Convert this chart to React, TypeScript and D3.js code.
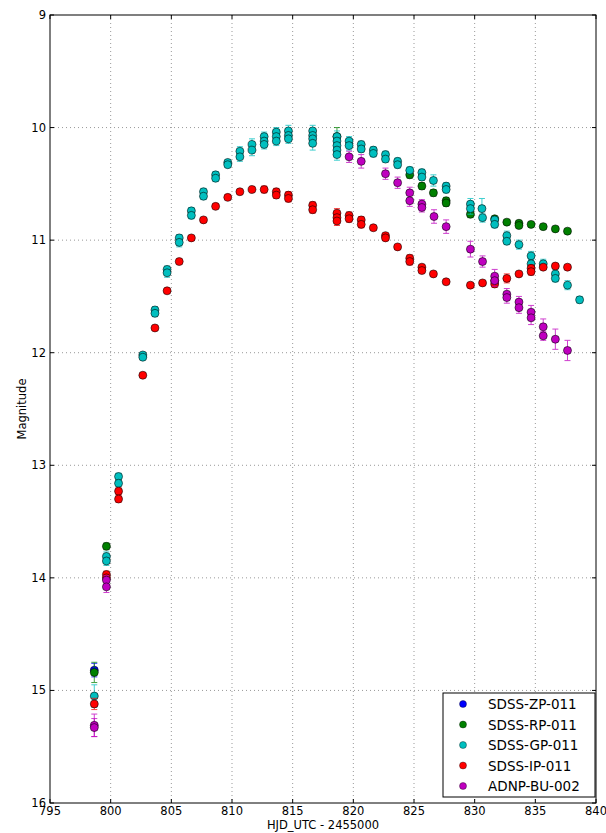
import React from "react";
import * as d3 from "d3";

// [HJD - 2455000, magnitude, error]
type Obs = [number, number, number];

const zpData: Obs[] = [[798.65, 14.82, 0.06]];

const rpData: Obs[] = [
  [798.65, 14.84, 0.09], [799.65, 13.72, 0.03], [818.65, 10.08, 0.08],
  [824.65, 10.42, 0.03], [825.65, 10.52, 0.03], [826.6, 10.58, 0.03],
  [827.65, 10.65, 0.03], [827.65, 10.67, 0.03], [829.65, 10.77, 0.03],
  [831.65, 10.81, 0.02], [832.65, 10.84, 0.02], [833.65, 10.85, 0.02],
  [833.65, 10.87, 0.02], [834.65, 10.86, 0.02], [835.65, 10.88, 0.02],
  [836.65, 10.9, 0.02], [837.65, 10.92, 0.02]
];

const gpData: Obs[] = [
  [798.65, 15.05, 0.1], [799.65, 13.81, 0.04], [799.65, 13.85, 0.04],
  [800.65, 13.1, 0.03], [800.65, 13.16, 0.03], [802.65, 12.02, 0.02],
  [802.65, 12.04, 0.02], [803.65, 11.62, 0.03], [803.65, 11.65, 0.03],
  [804.65, 11.26, 0.03], [804.65, 11.29, 0.04], [805.65, 10.98, 0.03],
  [805.65, 11.02, 0.04], [806.65, 10.74, 0.03], [806.65, 10.78, 0.03],
  [807.65, 10.57, 0.03], [807.65, 10.61, 0.03], [808.65, 10.42, 0.03],
  [808.65, 10.45, 0.03], [809.65, 10.31, 0.02], [809.65, 10.33, 0.02],
  [810.65, 10.21, 0.04], [810.65, 10.26, 0.04], [811.65, 10.15, 0.05],
  [811.65, 10.2, 0.05], [812.65, 10.08, 0.04], [812.65, 10.12, 0.04],
  [812.65, 10.15, 0.04], [813.65, 10.04, 0.04], [813.65, 10.08, 0.04],
  [813.65, 10.12, 0.04], [814.65, 10.03, 0.05], [814.65, 10.07, 0.05],
  [814.65, 10.1, 0.04], [816.65, 10.03, 0.05], [816.65, 10.07, 0.05],
  [816.65, 10.1, 0.05], [816.65, 10.14, 0.06], [818.65, 10.08, 0.05],
  [818.65, 10.12, 0.05], [818.65, 10.16, 0.05], [818.65, 10.2, 0.05],
  [818.65, 10.24, 0.05], [819.65, 10.12, 0.04], [819.65, 10.16, 0.04],
  [820.65, 10.15, 0.03], [820.65, 10.19, 0.03], [821.65, 10.2, 0.03],
  [821.65, 10.23, 0.03], [822.65, 10.24, 0.03], [822.65, 10.28, 0.03],
  [823.65, 10.3, 0.03], [823.65, 10.33, 0.03], [824.65, 10.38, 0.03],
  [825.65, 10.4, 0.03], [825.65, 10.44, 0.03], [826.6, 10.47, 0.05],
  [827.65, 10.52, 0.03], [827.65, 10.55, 0.03], [829.65, 10.68, 0.05],
  [829.65, 10.72, 0.05], [830.6, 10.72, 0.09], [830.65, 10.8, 0.04],
  [831.65, 10.82, 0.03], [831.65, 10.86, 0.03], [832.65, 10.96, 0.04],
  [832.65, 11.01, 0.03], [833.65, 11.04, 0.04], [834.65, 11.14, 0.04],
  [834.65, 11.21, 0.04], [835.65, 11.21, 0.04], [836.65, 11.3, 0.04],
  [836.65, 11.34, 0.03], [837.65, 11.4, 0.04], [838.65, 11.53, 0.03]
];

const ipData: Obs[] = [
  [798.65, 15.12, 0.05], [799.65, 13.97, 0.03], [799.65, 14.0, 0.03],
  [800.65, 13.23, 0.03], [800.65, 13.3, 0.03], [802.65, 12.2, 0.02],
  [803.65, 11.78, 0.02], [804.65, 11.45, 0.02], [805.65, 11.19, 0.02],
  [806.65, 10.98, 0.02], [807.65, 10.82, 0.02], [808.65, 10.7, 0.02],
  [809.65, 10.62, 0.02], [810.65, 10.57, 0.02], [811.65, 10.55, 0.02],
  [812.65, 10.55, 0.03], [813.65, 10.57, 0.03], [813.65, 10.6, 0.03],
  [814.65, 10.6, 0.03], [814.65, 10.63, 0.03], [816.65, 10.69, 0.03],
  [816.65, 10.73, 0.03], [818.65, 10.76, 0.04], [818.65, 10.8, 0.04],
  [818.65, 10.83, 0.04], [819.65, 10.78, 0.03], [819.65, 10.81, 0.03],
  [820.65, 10.82, 0.03], [820.65, 10.86, 0.03], [821.65, 10.89, 0.02],
  [822.65, 10.96, 0.02], [822.65, 10.98, 0.02], [823.65, 11.06, 0.02],
  [824.65, 11.16, 0.03], [824.65, 11.19, 0.03], [825.65, 11.24, 0.02],
  [825.65, 11.27, 0.02], [826.6, 11.3, 0.02], [827.65, 11.37, 0.02],
  [829.65, 11.4, 0.02], [830.65, 11.38, 0.02], [831.65, 11.36, 0.03],
  [831.65, 11.39, 0.03], [832.65, 11.34, 0.04], [833.65, 11.3, 0.02],
  [834.65, 11.25, 0.03], [834.65, 11.28, 0.03], [835.65, 11.24, 0.02],
  [836.65, 11.23, 0.02], [837.65, 11.24, 0.02]
];

const buData: Obs[] = [
  [798.65, 15.31, 0.1], [798.65, 15.33, 0.08], [799.65, 14.02, 0.04],
  [799.65, 14.08, 0.05], [819.65, 10.26, 0.05], [820.65, 10.3, 0.06],
  [822.65, 10.41, 0.05], [823.65, 10.49, 0.05], [824.65, 10.58, 0.05],
  [824.65, 10.65, 0.05], [825.65, 10.68, 0.04], [825.65, 10.71, 0.04],
  [826.65, 10.79, 0.06], [827.65, 10.88, 0.06], [829.65, 11.08, 0.07],
  [830.65, 11.19, 0.05], [831.65, 11.32, 0.06], [831.65, 11.36, 0.05],
  [832.65, 11.48, 0.05], [832.65, 11.51, 0.05], [833.65, 11.55, 0.05],
  [833.65, 11.6, 0.05], [834.65, 11.64, 0.06], [834.65, 11.69, 0.06],
  [835.65, 11.77, 0.07], [835.65, 11.85, 0.04], [836.65, 11.88, 0.09],
  [837.65, 11.98, 0.09]
];

const seriesNames = ["SDSS-ZP-011", "SDSS-RP-011", "SDSS-GP-011", "SDSS-IP-011", "ADNP-BU-002"];
const seriesColours = ["#0000ff", "#008000", "#00bfbf", "#ff0000", "#bf00bf"];
const seriesData = [zpData, rpData, gpData, ipData, buData];

const xTicks = [795, 800, 805, 810, 815, 820, 825, 830, 835, 840];
const yTicks = [9, 10, 11, 12, 13, 14, 15, 16];

const layout = { width: 606, height: 833, left: 50, right: 596, top: 15, bottom: 803 };
const font = "'DejaVu Sans', sans-serif";

export default function App() {
  const xScale = d3.scaleLinear().domain([795, 840]).range([layout.left, layout.right]);
  const yScale = d3.scaleLinear().domain([9, 16]).range([layout.top, layout.bottom]);

  const series = seriesData.map((data, s) => {
    const colour = seriesColours[s];
    return (
      <g key={s}>
        {data.map((d, i) => {
          const x = xScale(d[0]);
          const y1 = yScale(d[1] - d[2]);
          const y2 = yScale(d[1] + d[2]);
          return (
            <g key={"e" + i} stroke={colour} strokeWidth={1} opacity={0.75}>
              <line x1={x} x2={x} y1={y1} y2={y2} />
              <line x1={x - 3} x2={x + 3} y1={y1} y2={y1} />
              <line x1={x - 3} x2={x + 3} y1={y2} y2={y2} />
            </g>
          );
        })}
        {data.map((d, i) => (
          <circle
            key={"p" + i}
            cx={xScale(d[0])}
            cy={yScale(d[1])}
            r={4}
            fill={colour}
            stroke="#000"
            strokeOpacity={0.7}
            strokeWidth={0.8}
          />
        ))}
      </g>
    );
  });

  return (
    <svg
      width={layout.width}
      height={layout.height}
      style={{ position: "absolute", left: 0, top: 0, background: "#fff" }}
    >
      <rect x={0} y={0} width={layout.width} height={layout.height} fill="#fff" />
      <g stroke="#999" strokeWidth={1} strokeDasharray="1,3">
        {xTicks.slice(1, -1).map(t => (
          <line key={"gx" + t} x1={xScale(t)} x2={xScale(t)} y1={layout.top} y2={layout.bottom} />
        ))}
        {yTicks.slice(1, -1).map(t => (
          <line key={"gy" + t} x1={layout.left} x2={layout.right} y1={yScale(t)} y2={yScale(t)} />
        ))}
      </g>
      {series}
      <rect
        x={layout.left}
        y={layout.top}
        width={layout.right - layout.left}
        height={layout.bottom - layout.top}
        fill="none"
        stroke="#000"
        strokeWidth={1}
      />
      <g stroke="#000" strokeWidth={1}>
        {xTicks.map(t => (
          <g key={"tx" + t}>
            <line x1={xScale(t)} x2={xScale(t)} y1={layout.bottom} y2={layout.bottom - 4} />
            <line x1={xScale(t)} x2={xScale(t)} y1={layout.top} y2={layout.top + 4} />
          </g>
        ))}
        {yTicks.map(t => (
          <g key={"ty" + t}>
            <line x1={layout.left} x2={layout.left + 4} y1={yScale(t)} y2={yScale(t)} />
            <line x1={layout.right} x2={layout.right - 4} y1={yScale(t)} y2={yScale(t)} />
          </g>
        ))}
      </g>
      <g fontFamily={font} fontSize={11.5} fill="#000">
        {xTicks.map(t => (
          <text key={"lx" + t} x={xScale(t)} y={layout.bottom + 12} textAnchor="middle">
            {t}
          </text>
        ))}
        {yTicks.map(t => (
          <text key={"ly" + t} x={layout.left - 4} y={yScale(t) + 4} textAnchor="end">
            {t}
          </text>
        ))}
        <text x={(layout.left + layout.right) / 2} y={829} textAnchor="middle">
          HJD_UTC - 2455000
        </text>
        <text transform={`translate(26,${(layout.top + layout.bottom) / 2}) rotate(-90)`} textAnchor="middle">
          Magnitude
        </text>
      </g>
      <g transform="translate(443,693)">
        <rect x={0} y={0} width={152} height={104} fill="#fff" stroke="#000" strokeWidth={1} />
        {seriesNames.map((name, i) => (
          <g key={name} transform={`translate(0,${11 + i * 20.5})`}>
            <circle cx={20} cy={0} r={3.5} fill={seriesColours[i]} stroke="#000" strokeOpacity={0.6} strokeWidth={0.6} />
            <text x={45} y={5} fontFamily={font} fontSize={13.5}>
              {name}
            </text>
          </g>
        ))}
      </g>
    </svg>
  );
}
